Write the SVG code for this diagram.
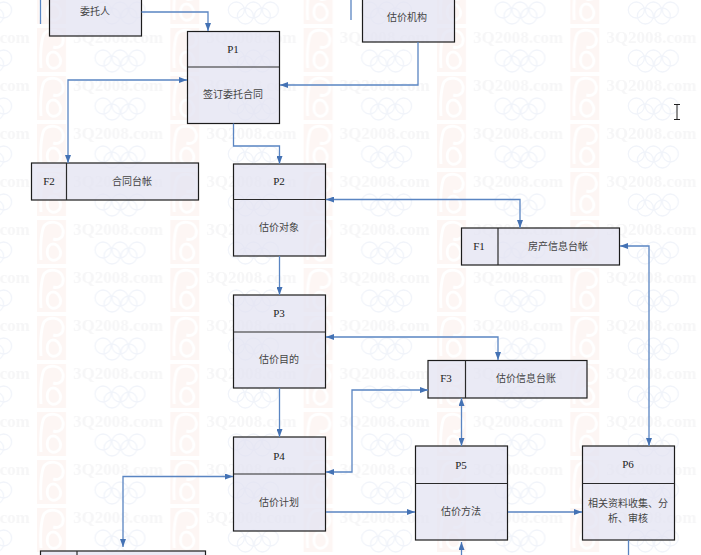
<svg xmlns="http://www.w3.org/2000/svg" width="701" height="555" viewBox="0 0 701 555">
<style>
.n{fill:#e2e2f1;fill-opacity:.72;stroke:#1c1c1c;stroke-width:1.2}
.d{stroke:#2a2a2a;stroke-width:1.2;fill:none}
.t{font-family:"Noto Sans CJK SC",sans-serif;font-size:10px;fill:#444;text-anchor:middle}
.l{font-family:"Liberation Serif",serif;font-size:11px;fill:#222;text-anchor:middle}
.c{fill:none;stroke:#5a85c2;stroke-width:1.3}
.a{marker-end:url(#h)}
.b{marker-start:url(#hs);marker-end:url(#h)}
.w{font-family:"Liberation Serif",serif;font-weight:bold;font-size:17px;fill:#f6f6f7}
.r{fill:none;stroke:#f1f4fa;stroke-width:1.3}
</style>
<defs>
<marker id="h" viewBox="0 0 8 6" refX="8" refY="3" markerWidth="8" markerHeight="6" markerUnits="userSpaceOnUse" orient="auto"><path d="M0 0L8 3L0 6Z" fill="#4472b4"/></marker>
<marker id="hs" viewBox="0 0 8 6" refX="8" refY="3" markerWidth="8" markerHeight="6" markerUnits="userSpaceOnUse" orient="auto-start-reverse"><path d="M0 0L8 3L0 6Z" fill="#4472b4"/></marker>
<pattern id="wm" x="37" y="28" width="133.33" height="48" patternUnits="userSpaceOnUse">
<path d="M0 0H29V44H0Z" fill="#fdf6f4"/>
<path d="M4 40C3 28 4 12 7 6C12 0 24 1 26 10C27 17 22 21 16 19M16 24C9 24 8 38 15 40C21 41 25 36 23 30C21 25 18 24 16 24" fill="none" stroke="#fff" stroke-width="3"/>
<text class="w" x="36" y="15">3Q2008.com</text>
<circle class="r" cx="66" cy="30" r="8"/><circle class="r" cx="83" cy="30" r="8"/><circle class="r" cx="100" cy="30" r="8"/><circle class="r" cx="75" cy="36" r="8"/><circle class="r" cx="92" cy="36" r="8"/>
</pattern>
</defs>
<rect width="701" height="555" fill="#fff"/>
<rect id="watermark" width="701" height="555" fill="url(#wm)"/>
<g id="n-client"><rect class="n" x="49.500" y="-10" width="92" height="46"/><text class="t" x="95" y="15">委托人</text></g>
<g id="n-agency"><rect class="n" x="362.500" y="-10" width="92" height="52"/><text class="t" x="407" y="21">估价机构</text></g>
<g id="n-p1"><rect class="n" x="187.500" y="31.500" width="92" height="92"/><path class="d" d="M187.500 67H279.500"/><text class="l" x="233" y="53">P1</text><text class="t" x="233" y="98">签订委托合同</text></g>
<g id="n-p2"><rect class="n" x="233.500" y="164" width="92" height="92"/><path class="d" d="M233.500 199.500H325.500"/><text class="l" x="279" y="185">P2</text><text class="t" x="279" y="231">估价对象</text></g>
<g id="n-p3"><rect class="n" x="233.500" y="295" width="92" height="93"/><path class="d" d="M233.500 332H325.500"/><text class="l" x="279" y="317">P3</text><text class="t" x="279" y="363">估价目的</text></g>
<g id="n-p4"><rect class="n" x="233.500" y="437" width="92" height="94"/><path class="d" d="M233.500 474H325.500"/><text class="l" x="279" y="460">P4</text><text class="t" x="279" y="506">估价计划</text></g>
<g id="n-p5"><rect class="n" x="415.500" y="446" width="92" height="94"/><path class="d" d="M415.500 483.500H507.500"/><text class="l" x="461" y="469">P5</text><text class="t" x="461" y="515">估价方法</text></g>
<g id="n-p6"><rect class="n" x="582.500" y="446" width="92" height="94"/><path class="d" d="M582.500 483.500H674.500"/><text class="l" x="628" y="468">P6</text><text class="t" x="628" y="507">相关资料收集、分</text><text class="t" x="628" y="521.500">析、审核</text></g>
<g id="n-f2"><rect class="n" x="31.500" y="163" width="167" height="37"/><path class="d" d="M66.500 163V200"/><text class="l" x="49" y="185">F2</text><text class="t" x="132" y="185">合同台帐</text></g>
<g id="n-f1"><rect class="n" x="461.500" y="228" width="158" height="37"/><path class="d" d="M498 228V265"/><text class="l" x="479" y="250">F1</text><text class="t" x="558" y="250">房产信息台帐</text></g>
<g id="n-f3"><rect class="n" x="428" y="360.500" width="159" height="37.500"/><path class="d" d="M465.500 360.500V398"/><text class="l" x="446" y="382">F3</text><text class="t" x="526" y="382">估价信息台账</text></g>
<g id="n-f4"><rect class="n" x="40.500" y="551" width="165" height="14"/><path class="d" d="M77 551V565"/></g>
<g id="connectors">
<path class="c" d="M40.500 0V24"/>
<path class="c" d="M351 0V20"/>
<path class="c a" d="M141.500 12H208V31"/>
<path class="c b" d="M187 80H68V163"/>
<path class="c a" d="M418 42V85H280"/>
<path class="c a" d="M233.500 123.500V146H279.500V164"/>
<path class="c b" d="M326 199.500H520V228"/>
<path class="c a" d="M279.500 256V295"/>
<path class="c b" d="M326 337H498V360"/>
<path class="c a" d="M279.500 388V437"/>
<path class="c b" d="M326 472H352V390H428"/>
<path class="c b" d="M233 476.500H123V547"/>
<path class="c a" d="M326 512H415"/>
<path class="c a" d="M508 512H582"/>
<path class="c b" d="M461.500 398V446"/>
<path class="c b" d="M620 246H649V446"/>
<path class="c a" d="M461.500 556V542"/>
<path class="c" d="M628.500 540V555"/>
</g>
<path id="cursor" d="M674 104.500H680M674 119.500H680M677 104.500V119.500" fill="none" stroke="#222" stroke-width="1"/>
</svg>
